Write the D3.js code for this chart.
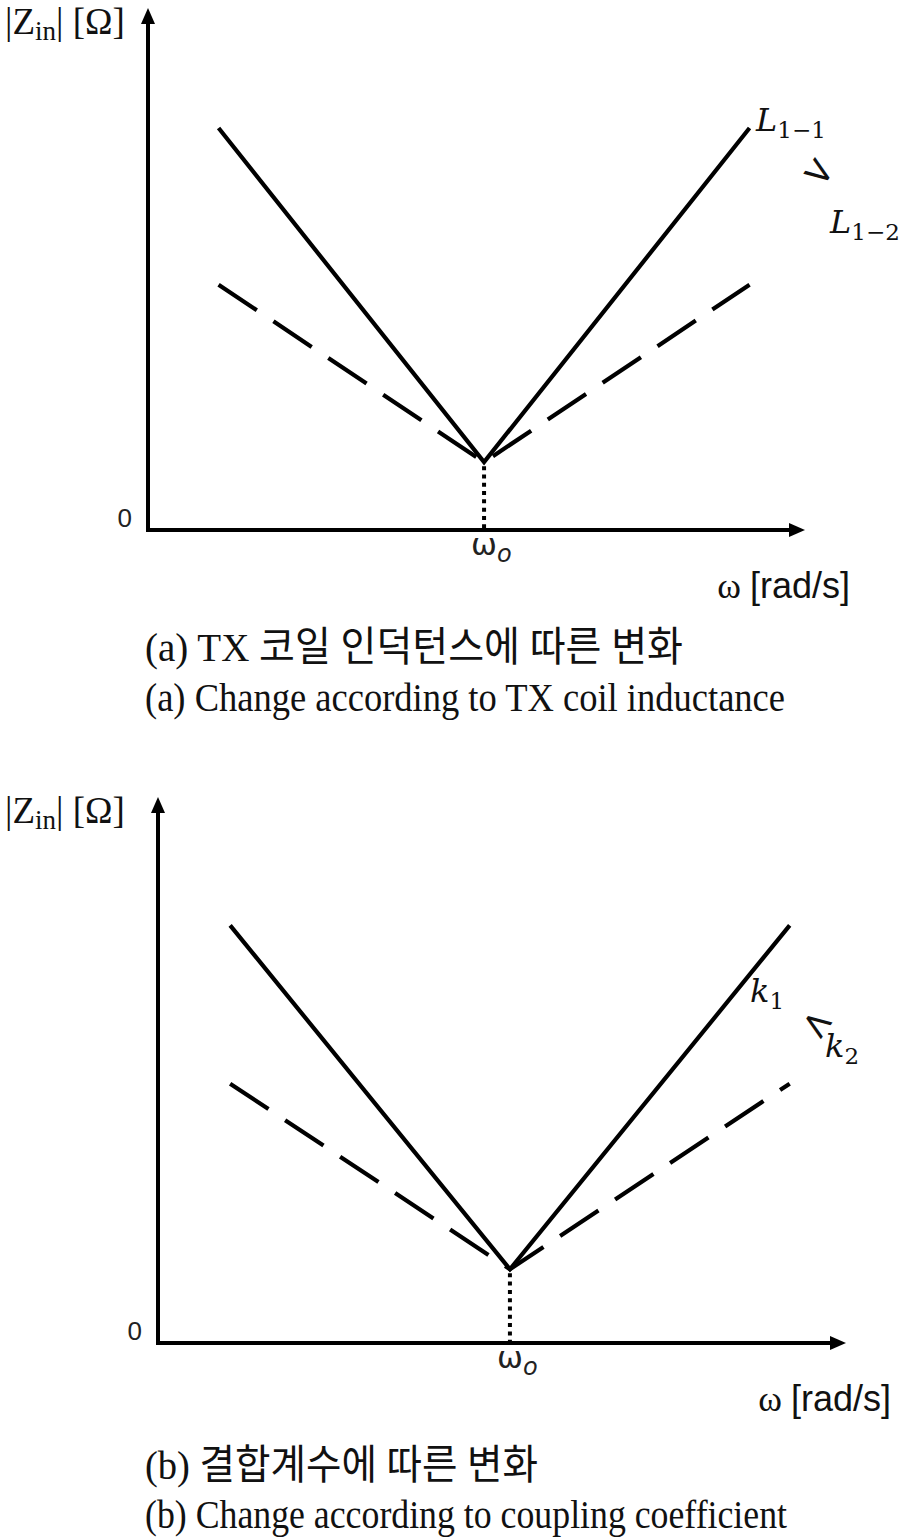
<!DOCTYPE html>
<html>
<head>
<meta charset="utf-8">
<script src="https://cdn.jsdelivr.net/npm/d3@7"></script>
<style>
  body { margin: 0; background: #fff; }
  svg { display: block; }
</style>
</head>
<body>
<div id="chart"></div>
<script>
var width = 901,
    height = 1538;

// panel (a): TX coil inductance
var omegaA = [0.21, 1, 1.79];        // omega / omega_o
var zSolidA = [7.7, 1.3, 7.7];       // L1-1
var zDashA = [4.7, 1.3, 4.7];        // L1-2
// panel (b): coupling coefficient
var omegaB = [0.205, 1, 1.795];
var zSolidB = [7.65, 1.35, 7.65];    // k1
var zDashB = [4.75, 1.35, 4.75];     // k2

var zeroLabel = "0";
var captionsA = ["(a) TX 코일 인덕턴스에 따른 변화", "(a) Change according to TX coil inductance"];
var captionsB = ["(b) 결합계수에 따른 변화", "(b) Change according to coupling coefficient"];

var svg = d3.select("#chart").append("svg")
    .attr("width", width)
    .attr("height", height);

function drawPanel(p) {
  var g = svg.append("g");

  var x = d3.scaleLinear().domain([0, 1.955]).range([p.left, p.right]);
  var y = d3.scaleLinear().domain([0, 10]).range([p.bottom, p.top]);

  var line = d3.line()
      .x(function(d) { return x(d[0]); })
      .y(function(d) { return y(d[1]); });

  // axes with arrow heads
  g.append("path")
      .attr("d", "M" + x(0) + "," + (y(0) + 2) + "V" + (y(10) + 12))
      .attr("stroke", "#000").attr("stroke-width", 4).attr("fill", "none");
  g.append("path")
      .attr("d", "M" + (x(0) - 2) + "," + y(0) + "H" + (x(1.955) - 12))
      .attr("stroke", "#000").attr("stroke-width", 4).attr("fill", "none");
  g.append("path")
      .attr("d", "M" + x(0) + "," + y(10) + "l-7,16h14z")
      .attr("fill", "#000");
  g.append("path")
      .attr("d", "M" + x(1.955) + "," + y(0) + "l-16,-7v14z")
      .attr("fill", "#000");

  // dotted guide at omega_o
  g.append("line")
      .attr("x1", x(1)).attr("x2", x(1))
      .attr("y1", y(p.solid[1]) + 4).attr("y2", y(0) - 2)
      .attr("stroke", "#000").attr("stroke-width", 4)
      .attr("stroke-dasharray", "4,4.3");

  g.append("path")
      .datum(d3.zip(p.omega, p.dash))
      .attr("d", line)
      .attr("fill", "none").attr("stroke", "#000").attr("stroke-width", 4.2)
      .attr("stroke-dasharray", "46,20");

  g.append("path")
      .datum(d3.zip(p.omega, p.solid))
      .attr("d", line)
      .attr("fill", "none").attr("stroke", "#000").attr("stroke-width", 4.2);

  // y label |Z_in| [Ω]
  var yl = g.append("text")
      .attr("x", 5).attr("y", y(10) + 26)
      .attr("font-family", "Liberation Serif, serif")
      .attr("font-size", 37)
      .attr("fill", "#111");
  yl.append("tspan").text("|Z");
  yl.append("tspan").attr("font-size", 27).attr("dy", 6).text("in");
  yl.append("tspan").attr("dy", -6).text("| [Ω]");

  g.append("text")
      .attr("x", x(0) - 16).attr("y", y(0) - 3)
      .attr("text-anchor", "end")
      .attr("font-family", "Liberation Sans, Arial, sans-serif")
      .attr("font-size", 26)
      .attr("fill", "#222")
      .text(zeroLabel);

  // omega_o tick label
  var wo = g.append("text")
      .attr("x", x(1) - 13).attr("y", y(0) + 25)
      .attr("font-family", "DejaVu Sans, sans-serif")
      .attr("font-size", 31)
      .attr("fill", "#222");
  wo.append("tspan").text("ω");
  wo.append("tspan").attr("font-size", 24).attr("dy", 7).attr("font-style", "italic").text("o");

  // x axis title
  var xt = g.append("text")
      .attr("x", p.right + 45).attr("y", y(0) + 68)
      .attr("text-anchor", "end")
      .attr("font-family", "Liberation Sans, Arial, sans-serif")
      .attr("font-size", 36)
      .attr("fill", "#111");
  xt.append("tspan").attr("font-family", "Liberation Serif, serif").text("ω ");
  xt.append("tspan").text("[rad/s]");

  // series labels
  p.labels.forEach(function(l) {
    var t = g.append("text")
        .attr("x", l.x).attr("y", l.y)
        .attr("font-family", "DejaVu Serif, serif")
        .attr("font-style", "italic")
        .attr("font-size", 32)
        .attr("fill", "#111");
    t.append("tspan").text(l.main);
    t.append("tspan").attr("font-style", "normal").attr("font-size", 23)
        .attr("dy", 7).text(l.sub);
  });
  g.append("text")
      .attr("transform", "translate(" + p.cmp.x + "," + p.cmp.y + ") rotate(35)")
      .attr("text-anchor", "middle")
      .attr("font-family", "DejaVu Sans, sans-serif")
      .attr("font-size", 38)
      .attr("fill", "#111")
      .text(p.cmp.s);

  // captions
  p.captions.forEach(function(c, i) {
    g.append("text")
        .attr("x", 145).attr("y", p.capY[i])
        .attr("font-family", "Liberation Serif, Noto Sans CJK KR, serif")
        .attr("font-size", 41)
        .attr("textLength", p.capW[i])
        .attr("lengthAdjust", "spacingAndGlyphs")
        .attr("fill", "#111")
        .text(c);
  });
}

drawPanel({
  left: 148, right: 805, top: 8, bottom: 530,
  omega: omegaA, solid: zSolidA, dash: zDashA,
  labels: [{x: 756, y: 131, main: "L", sub: "1−1"}, {x: 830, y: 233, main: "L", sub: "1−2"}],
  cmp: {x: 812, y: 182, s: ">"},
  captions: captionsA, capY: [661, 711], capW: [538, 640]
});

drawPanel({
  left: 158, right: 846, top: 797, bottom: 1343,
  omega: omegaB, solid: zSolidB, dash: zDashB,
  labels: [{x: 750, y: 1002, main: "k", sub: "1"}, {x: 825, y: 1057, main: "k", sub: "2"}],
  cmp: {x: 810, y: 1034, s: "<"},
  captions: captionsB, capY: [1479, 1528], capW: [393, 642]
});
</script>
</body>
</html>
